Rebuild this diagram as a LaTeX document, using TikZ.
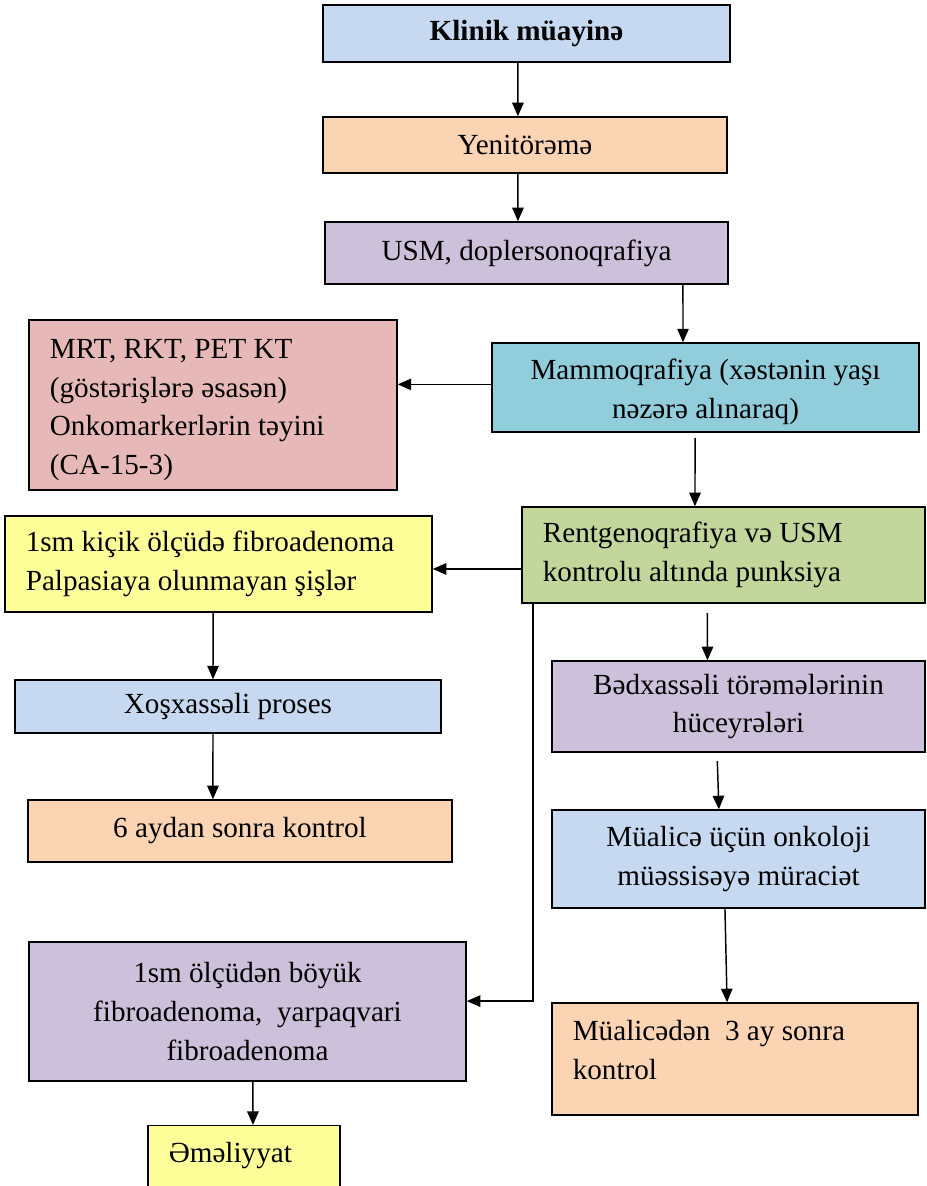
\documentclass[tikz,border=0pt]{standalone}
\usepackage{fontspec}
\setmainfont{Liberation Serif}
\usetikzlibrary{arrows.meta}

\definecolor{boxblue}{HTML}{C6D9F1}
\definecolor{boxpeach}{HTML}{FBD4B4}
\definecolor{boxlilac}{HTML}{CCC0DA}
\definecolor{boxpink}{HTML}{E6B9B8}
\definecolor{boxteal}{HTML}{92CDDC}
\definecolor{boxgreen}{HTML}{C3D69B}
\definecolor{boxyellow}{HTML}{FFFF99}

\begin{document}
\begin{tikzpicture}[->,>={Triangle[length=6.5pt,width=5.5pt]},x=0.48pt,y=-0.48pt,line width=0.7pt]
       \tikzstyle{box}=[draw=black,rectangle,line width=0.7pt,inner xsep=10pt,font=\fontsize{14}{18.7}\selectfont,align=center]
       \tikzstyle{lbox}=[box,align=flush left]

       \useasboundingbox (0,0) rectangle (927,1186);

       \node[box,fill=boxblue,minimum width=195.4pt,minimum height=27.4pt]   (klinik)  at (526.5,33.5) {\textbf{Klinik müayinə}};
       \node[box,fill=boxpeach,minimum width=193.9pt,minimum height=26.9pt]  (yeni)    at (525,145)    {Yenitörəmə};
       \node[box,fill=boxlilac,minimum width=193.4pt,minimum height=29.8pt]  (usm)     at (526.5,253)  {USM, doplersonoqrafiya};
       \node[lbox,fill=boxpink,text width=156.6pt,minimum height=81.6pt,text height=14pt]     (mrt)     at (213,405)    {MRT, RKT, PET KT\\(göstərişlərə əsasən)\\Onkomarkerlərin təyini\\(CA-15-3)};
       \node[box,fill=boxteal,minimum width=205pt,minimum height=42.7pt,text height=33pt]     (mammo)   at (705.5,387.5) {Mammoqrafiya (xəstənin yaşı\\nəzərə alınaraq)};
       \node[lbox,fill=boxgreen,text width=173.4pt,minimum height=46.1pt]    (rentgen) at (723.5,555)  {Rentgenoqrafiya və USM\\kontrolu altında punksiya};
       \node[lbox,fill=boxyellow,text width=185pt,minimum height=46.1pt]     (kicik)   at (218.5,564)  {1sm kiçik ölçüdə fibroadenoma\\Palpasiaya olunmayan şişlər};
       \node[box,fill=boxblue,minimum width=204.5pt,minimum height=25.4pt]   (xos)     at (228,706.5)  {Xoşxassəli proses};
       \node[box,fill=boxpeach,minimum width=203.5pt,minimum height=29.8pt]  (alti)    at (240,831)    {6 aydan sonra kontrol};
       \node[box,fill=boxlilac,minimum width=179pt,minimum height=43.7pt]    (bed)     at (738.5,706.5) {Bədxassəli törəmələrinin\\hüceyrələri};
       \node[box,fill=boxblue,minimum width=179pt,minimum height=47pt]      (mualice) at (738.5,859)  {Müalicə üçün onkoloji\\müəssisəyə müraciət};
       \node[lbox,fill=boxpeach,text width=155.7pt,minimum height=53.8pt,text depth=27.3pt]   (nezaret) at (735,1059)   {Müalicədən~ 3 ay sonra\\kontrol};
       \node[box,fill=boxlilac,minimum width=209.8pt,minimum height=66.7pt]  (boyuk)   at (247.5,1011.5) {1sm ölçüdən böyük\\fibroadenoma,~ yarpaqvari\\fibroadenoma};
       \node[lbox,fill=boxyellow,text width=72.2pt,inner ysep=8pt,text depth=40pt,anchor=north] (emel) at (244,1125) {Əməliyyat};

       \draw ([xshift=-4.1pt]klinik.south) -- ([xshift=-3.4pt]yeni.north);
       \draw ([xshift=-3.4pt]yeni.south)   -- ([xshift=-4.1pt]usm.north);
       \draw ([xshift=75.1pt]usm.south)    -- ([xshift=-10.8pt]mammo.north);
       \draw ([yshift=1.5pt]mammo.west) -- ([yshift=1.5pt]mammo.west -| mrt.east);
       \draw[shorten <=2.5pt] ([xshift=-5pt]mammo.south) -- ([xshift=-13.7pt]rentgen.north);
       \draw ([yshift=-6.7pt]rentgen.west) -- ([yshift=-6.7pt]rentgen.west -| kicik.east);
       \draw[shorten <=4.5pt] ([xshift=-7.7pt]rentgen.south) -- ([xshift=-14.9pt]bed.north);
       \draw[shorten <=4pt] ([xshift=-10.3pt]bed.south) -- ([xshift=-9.4pt]mualice.north);
       \draw ([xshift=-6.5pt]mualice.south) -- ([xshift=-3.8pt]nezaret.north);
       \draw ([xshift=-2.6pt]kicik.south) -- ([xshift=-7.2pt]xos.north);
       \draw ([xshift=-7.2pt]xos.south)   -- ([xshift=-13pt]alti.north);
       \draw ([xshift=-91.4pt]rentgen.south) |- ([yshift=5pt]boyuk.east);
       \draw ([xshift=2.6pt]boyuk.south) -- ([xshift=4.3pt]emel.north);
\end{tikzpicture}
\end{document}
